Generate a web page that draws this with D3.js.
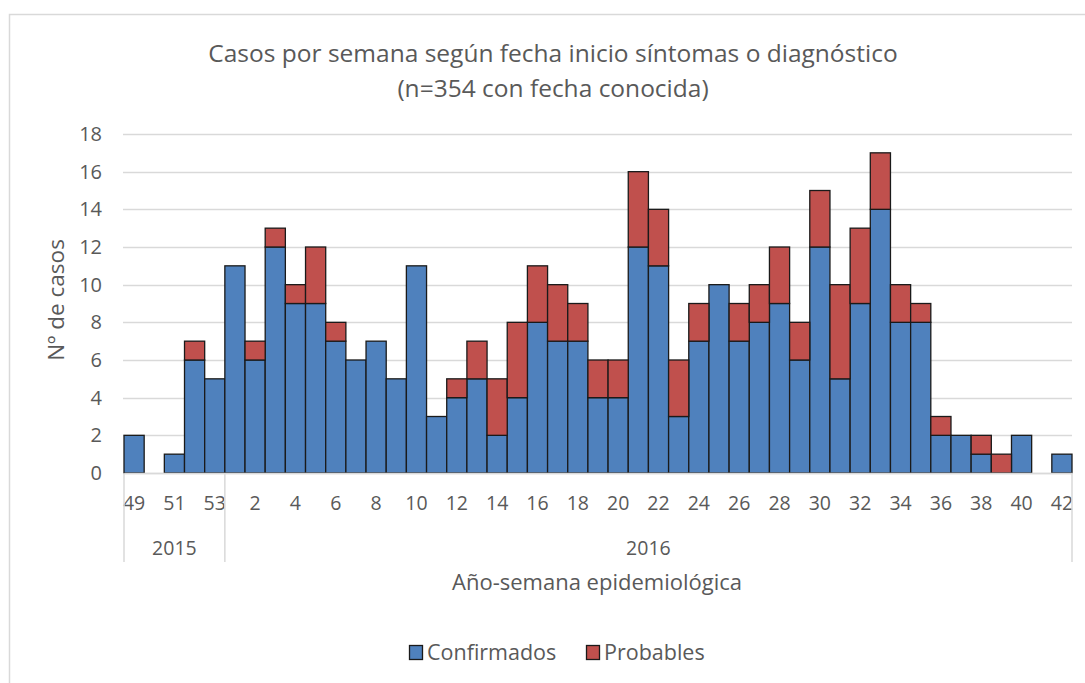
<!DOCTYPE html>
<html>
<head>
<meta charset="utf-8">
<script src="https://cdn.jsdelivr.net/npm/d3@7"></script>
<style>
  body { margin: 0; background: #fff; }
  svg text { font-family: "Open Sans", sans-serif; fill: #595959; }
</style>
</head>
<body>
<svg id="chart" width="1085" height="683"></svg>
<script>
// week labels, 2015 wk 49-53 then 2016 wk 1-42
var weeks2015 = [49, 50, 51, 52, 53];
var weeks2016 = d3.range(1, 43);
var confirmados = [2, 0, 1, 6, 5,
  11, 6, 12, 9, 9, 7, 6, 7, 5, 11,
  3, 4, 5, 2, 4, 8, 7, 7, 4, 4,
  12, 11, 3, 7, 10, 7, 8, 9, 6, 12,
  5, 9, 14, 8, 8, 2, 2, 1, 0, 2, 0, 1];
var probables = [0, 0, 0, 1, 0,
  0, 1, 1, 1, 3, 1, 0, 0, 0, 0,
  0, 1, 2, 3, 4, 3, 3, 2, 2, 2,
  4, 3, 3, 2, 0, 2, 2, 3, 2, 3,
  5, 4, 3, 2, 1, 1, 0, 1, 1, 0, 0, 0];
var yTicks = [0, 2, 4, 6, 8, 10, 12, 14, 16, 18];
var years = ["2015", "2016"];

var cats = weeks2015.map(function(w) { return "2015-" + w; })
  .concat(weeks2016.map(function(w) { return "2016-" + w; }));

var rows = cats.map(function(c, i) {
  return { key: c, Confirmados: confirmados[i], Probables: probables[i] };
});

var svg = d3.select("#chart");

// outer frame
svg.append("rect")
  .attr("x", 9.5).attr("y", 14.5)
  .attr("width", 1100).attr("height", 700)
  .attr("fill", "none").attr("stroke", "#d9d9d9").attr("stroke-width", 1.5);

var x = d3.scaleBand().domain(cats).range([124, 1072]).padding(0);
var y = d3.scaleLinear().domain([0, 18]).range([473, 134]);

// gridlines
svg.append("g").selectAll("line")
  .data(yTicks)
  .enter().append("line")
  .attr("x1", 123).attr("x2", 1072)
  .attr("y1", function(d) { return Math.round(y(d)) + 0.5; })
  .attr("y2", function(d) { return Math.round(y(d)) + 0.5; })
  .attr("stroke", "#d9d9d9").attr("stroke-width", 1.5);

// y axis labels
var yAxis = svg.append("g")
  .attr("transform", "translate(123,0)")
  .call(d3.axisLeft(y).tickValues(yTicks).tickSize(0).tickPadding(21));
yAxis.select(".domain").remove();
yAxis.selectAll("text").style("font-size", "20px").style("fill", "#595959");

// stacked bars
var stack = d3.stack().keys(["Confirmados", "Probables"]);
var series = stack(rows);
var colors = { Confirmados: "#4f81bd", Probables: "#c0504d" };

svg.append("g").selectAll("g")
  .data(series)
  .enter().append("g")
  .attr("fill", function(d) { return colors[d.key]; })
  .selectAll("rect")
  .data(function(d) { return d.filter(function(p) { return p[1] > p[0]; }); })
  .enter().append("rect")
  .attr("x", function(d) { return x(d.data.key); })
  .attr("y", function(d) { return y(d[1]); })
  .attr("width", x.bandwidth())
  .attr("height", function(d) { return y(d[0]) - y(d[1]); })
  .attr("stroke", "#1a1a1a").attr("stroke-width", 1.3);

// x axis with every other label
var xAxis = svg.append("g")
  .attr("transform", "translate(0,473)")
  .call(d3.axisBottom(x).tickSize(0).tickPadding(23)
    .tickValues(cats.filter(function(c, i) { return i % 2 === 0; }))
    .tickFormat(function(c) { return c.split("-")[1]; }));
xAxis.select(".domain").attr("stroke", "#d9d9d9").attr("stroke-width", 1.5);
xAxis.selectAll("text").style("font-size", "19.5px").style("fill", "#595959");

// year group separators
var bounds = [x(cats[0]), x("2016-1"), x(cats[cats.length - 1]) + x.bandwidth()];
svg.append("g").selectAll("line")
  .data(bounds)
  .enter().append("line")
  .attr("x1", function(d) { return d; }).attr("x2", function(d) { return d; })
  .attr("y1", 473).attr("y2", 562)
  .attr("stroke", "#d9d9d9").attr("stroke-width", 1.5);

var yearCenters = [
  (x(cats[0]) + x("2016-1")) / 2,
  (x("2016-1") + x(cats[cats.length - 1]) + x.bandwidth()) / 2
];
svg.append("g").selectAll("text")
  .data(years)
  .enter().append("text")
  .attr("x", function(d, i) { return yearCenters[i]; })
  .attr("y", 555)
  .attr("text-anchor", "middle")
  .style("font-size", "19.5px")
  .text(function(d) { return d; });

// titles
svg.append("text")
  .attr("x", 553).attr("y", 62)
  .attr("text-anchor", "middle")
  .style("font-size", "24.5px")
  .text("Casos por semana según fecha inicio síntomas o diagnóstico");
svg.append("text")
  .attr("x", 553).attr("y", 97)
  .attr("text-anchor", "middle")
  .style("font-size", "24.5px")
  .text("(n=354 con fecha conocida)");

svg.append("text")
  .attr("x", 597).attr("y", 590)
  .attr("text-anchor", "middle")
  .style("font-size", "22px")
  .text("Año-semana epidemiológica");

svg.append("text")
  .attr("transform", "translate(64,300) rotate(-90)")
  .attr("text-anchor", "middle")
  .style("font-size", "22.5px")
  .text("Nº de casos");

// legend
var legend = svg.append("g").attr("transform", "translate(409,645)");
var items = legend.selectAll("g")
  .data(["Confirmados", "Probables"])
  .enter().append("g")
  .attr("transform", function(d, i) { return "translate(" + (i * 177) + ",0)"; });
items.append("rect")
  .attr("x", 0.5).attr("y", 0.5).attr("width", 13).attr("height", 14)
  .attr("fill", function(d) { return colors[d]; })
  .attr("stroke", "#1a1a1a").attr("stroke-width", 1.3);
items.append("text")
  .attr("x", 18).attr("y", 15)
  .style("font-size", "21.5px")
  .text(function(d) { return d; });
</script>
</body>
</html>
